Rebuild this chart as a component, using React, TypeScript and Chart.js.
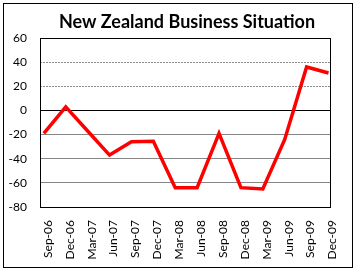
import React, { useEffect, useRef } from "react";
import { Chart, registerables } from "chart.js";

Chart.register(...registerables);

const TITLE = "New Zealand Business Situation";
const categories = [
  "Sep-06", "Dec-06", "Mar-07", "Jun-07", "Sep-07", "Dec-07", "Mar-08",
  "Jun-08", "Sep-08", "Dec-08", "Mar-09", "Jun-09", "Sep-09", "Dec-09",
];
const businessSituation = [-19, 3, -17, -37, -26, -25.5, -64, -64, -19, -64, -65, -24, 36, 31];
const yTicks = [-80, -60, -40, -20, 0, 20, 40, 60];

const FONT = "Lato, 'Open Sans', sans-serif";

const framePlugin = {
  id: "frame",
  afterDraw(chart: any) {
    const { ctx, chartArea } = chart;
    ctx.save();
    ctx.strokeStyle = "#000";
    ctx.lineWidth = 1;
    // outer chart border
    ctx.strokeRect(3.5, 3.5, 349, 264);
    // plot border
    const l = Math.round(chartArea.left) + 0.5;
    const t = Math.round(chartArea.top) + 0.5;
    const r = Math.round(chartArea.right) + 0.5;
    const b = Math.round(chartArea.bottom) + 0.5;
    ctx.strokeRect(l, t, r - l, b - t);
    // title
    ctx.fillStyle = "#000";
    ctx.font = `bold 18px ${FONT}`;
    ctx.textAlign = "center";
    ctx.textBaseline = "middle";
    ctx.fillText(TITLE, 187, 22);
    ctx.restore();
  },
};

export default function App() {
  const ref = useRef<HTMLCanvasElement | null>(null);
  useEffect(() => {
    document.body.style.margin = "0";
    const canvas = ref.current!;
    const chart = new Chart(canvas, {
      type: "line",
      data: {
        datasets: [
          {
            data: businessSituation.map((v, i) => ({ x: i, y: v })),
            borderColor: "#ff0000",
            borderWidth: 3.5,
            pointRadius: 0,
            tension: 0,
            fill: false,
          },
        ],
      },
      options: {
        animation: false,
        responsive: false,
        maintainAspectRatio: false,
        layout: { padding: { left: 0, right: 14, top: 38, bottom: 0 } },
        plugins: {
          legend: { display: false },
          title: { display: false },
          tooltip: { enabled: false },
        },
        scales: {
          x: {
            type: "linear",
            min: -0.176,
            max: 13.088,
            afterBuildTicks: (scale: any) => {
              scale.ticks = categories.map((_, i) => ({ value: i }));
            },
            afterFit: (scale: any) => {
              scale.height = 63;
            },
            grid: { display: false, drawTicks: false },
            border: { display: false },
            ticks: {
              autoSkip: false,
              maxRotation: 90,
              minRotation: 90,
              padding: 13,
              labelOffset: 4,
              color: "#000",
              font: { family: FONT, size: 12 },
              callback: (v: any) => categories[v as number] ?? "",
            },
          },
          y: {
            min: -80,
            max: 60,
            afterBuildTicks: (scale: any) => {
              scale.ticks = yTicks.map((v) => ({ value: v }));
            },
            afterFit: (scale: any) => {
              scale.width = 40;
            },
            grid: {
              drawTicks: false,
              color: (c: any) => {
                const v = c.tick ? c.tick.value : null;
                if (v === 0) return "#000";
                if (v === 60 || v === -80) return "rgba(0,0,0,0)";
                if (v !== null && v > 0) return "#8c8c8c";
                return "#868686";
              },
            },
            border: {
              display: false,
              dash: (c: any) => (c.tick && c.tick.value > 0 ? [2, 1] : []),
            } as any,
            ticks: {
              padding: 13,
              color: "#000",
              font: { family: FONT, size: 12 },
            },
          },
        },
      },
      plugins: [framePlugin],
    } as any);
    return () => chart.destroy();
  }, []);
  return (
    <div style={{ width: 356, height: 270 }}>
      <canvas ref={ref} width={356} height={270} style={{ display: "block" }} />
    </div>
  );
}
